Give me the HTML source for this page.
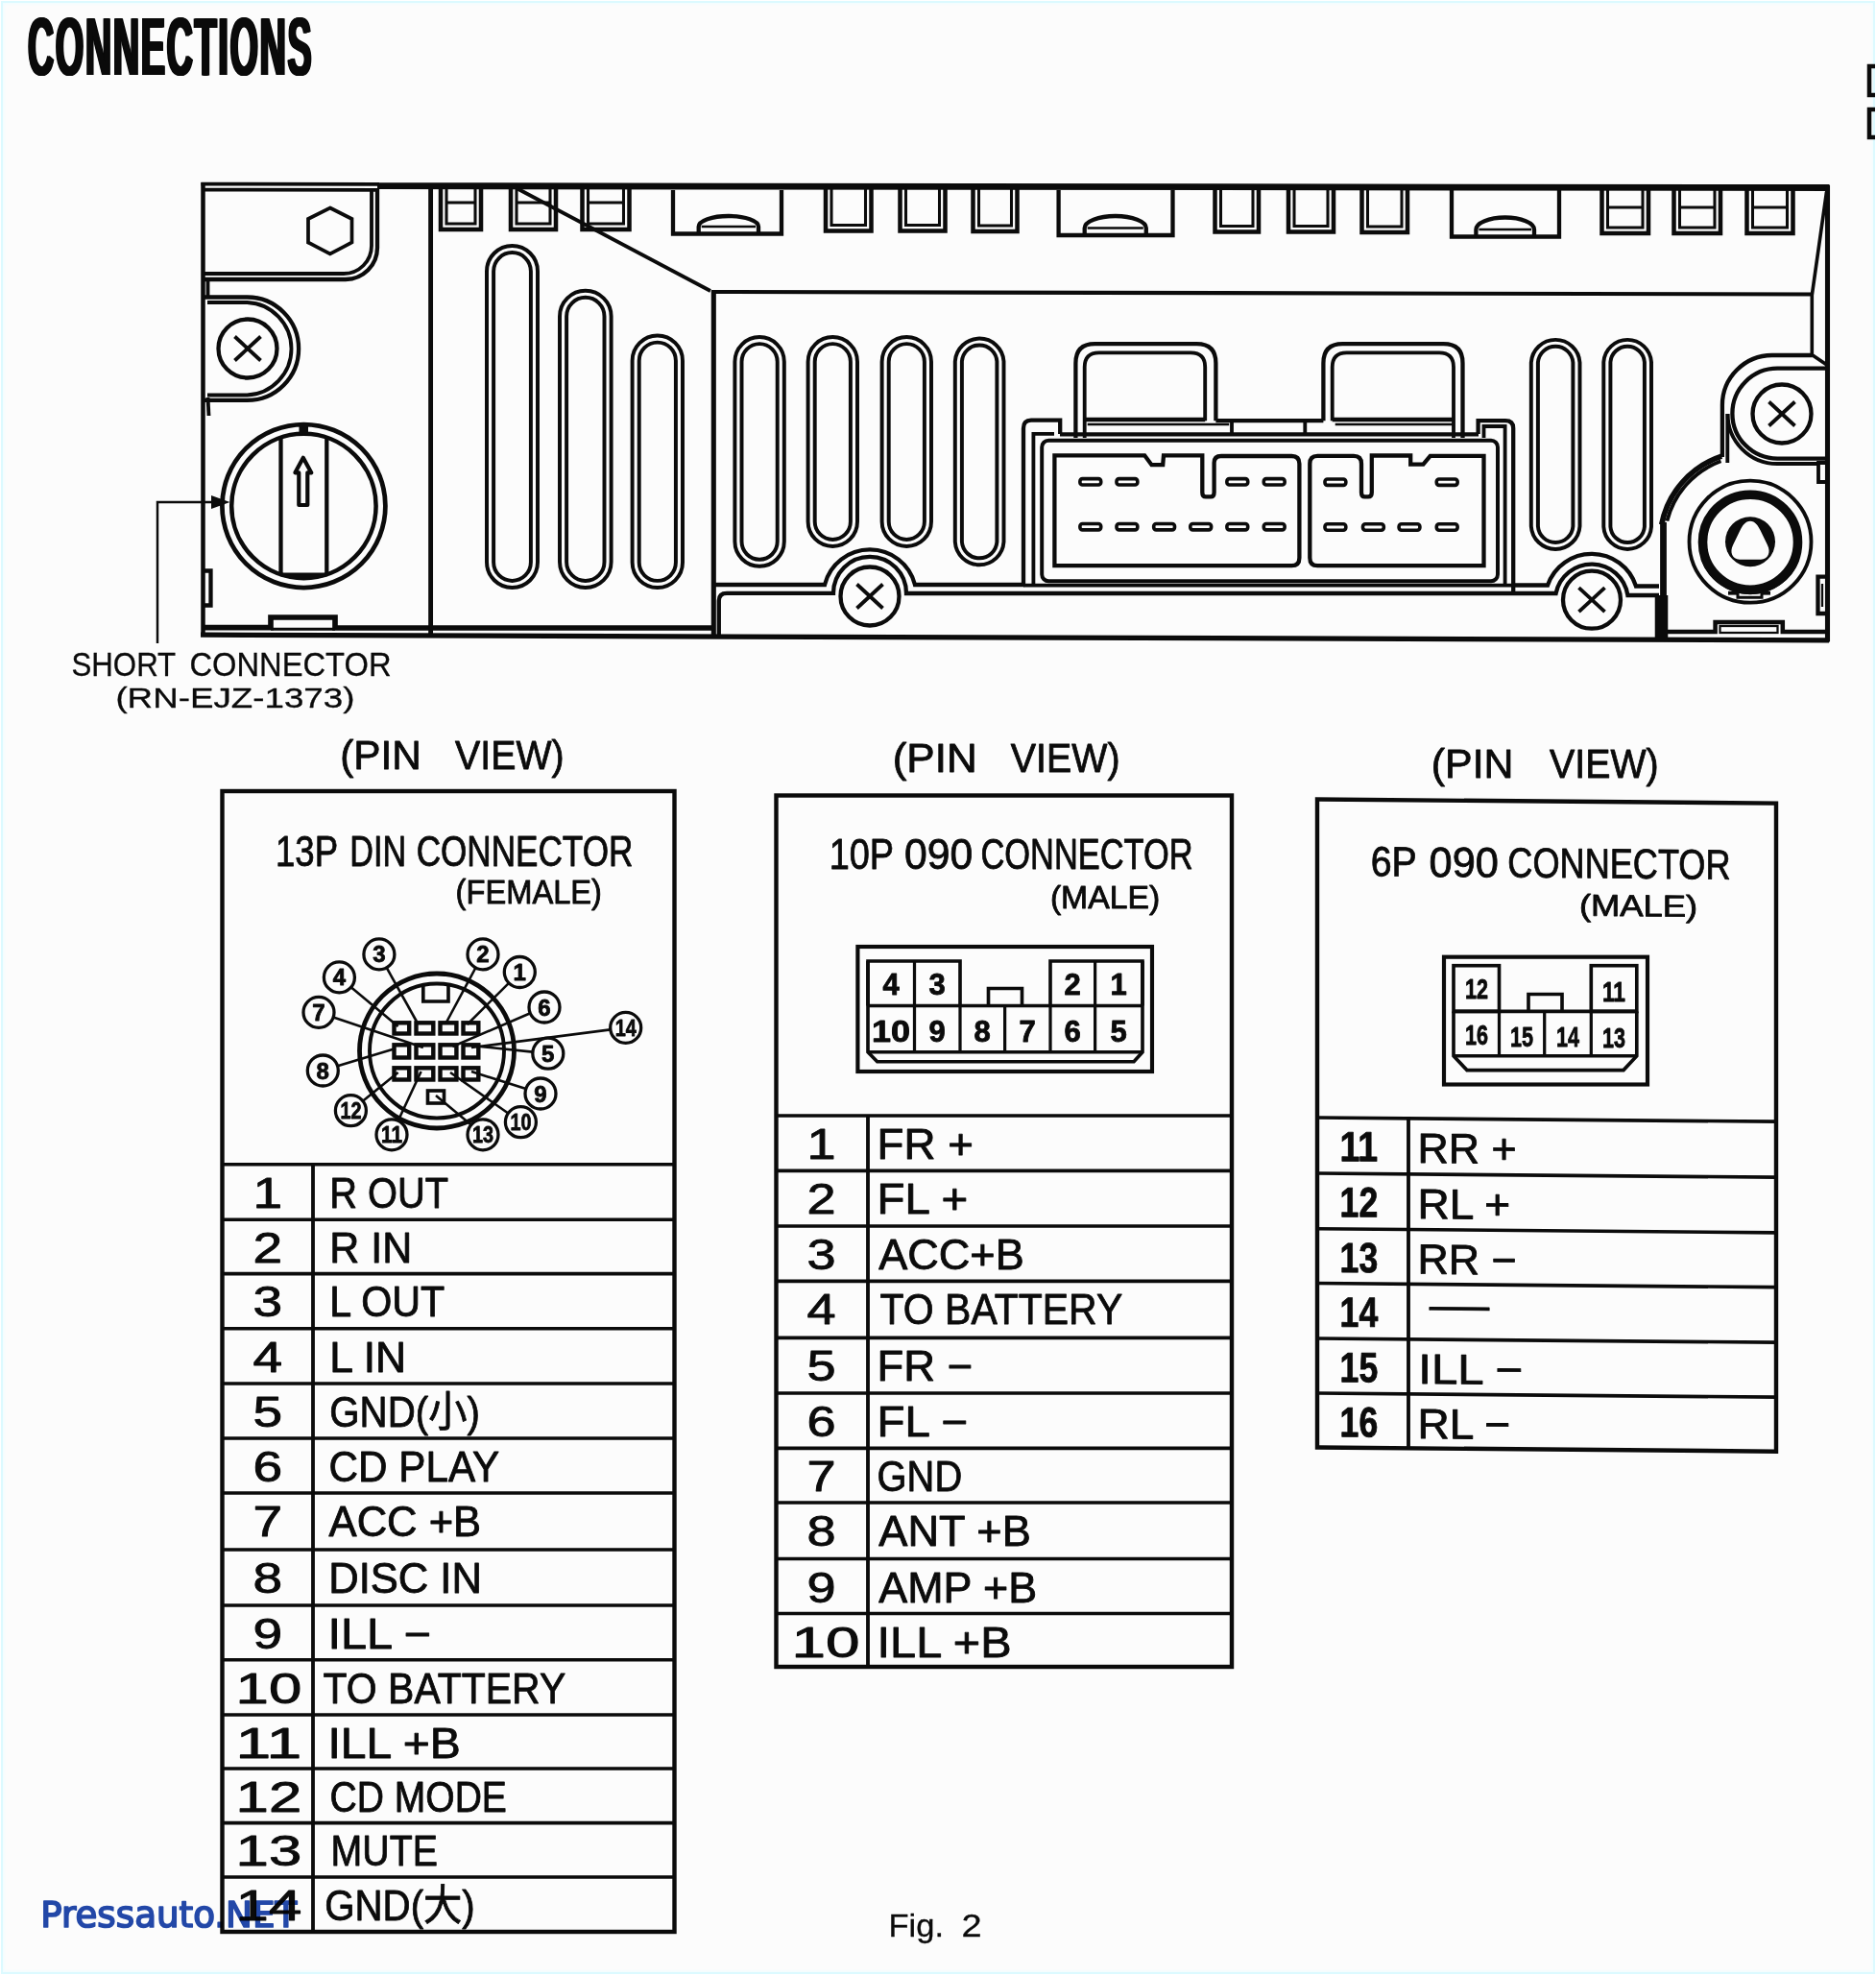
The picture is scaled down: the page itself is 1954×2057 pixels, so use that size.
<!DOCTYPE html>
<html lang="en"><head><meta charset="utf-8"><title>CONNECTIONS - Fig. 2</title>
<style>
html,body{margin:0;padding:0;background:#fcfcfc;}
#page{position:relative;width:1954px;height:2057px;overflow:hidden;background:#fcfcfc;
 box-shadow:inset 0 0 0 1px #fff, inset 0 0 0 3px #dcfaff, inset 0 0 3px 4px #effdff;}
svg{position:absolute;left:0;top:0;}
svg .ln{fill:none;stroke:#0b0b0b;stroke-linecap:butt;stroke-linejoin:miter;}
svg text{white-space:pre;stroke:#0b0b0b;stroke-width:0.85px;stroke-linejoin:round;}
svg text.nb{stroke:none;}
svg text.lt{stroke-width:0.3px;}
#title{position:absolute;left:29px;top:6px;margin:0;font:bold 85px/1 "Liberation Sans",sans-serif;color:#0a0a0a;
 transform-origin:0 0;transform:scale(0.4425,1);white-space:nowrap;letter-spacing:4px;
 text-shadow:1.5px 0 #0a0a0a,-1.5px 0 #0a0a0a,3px 0 #0a0a0a,-3px 0 #0a0a0a;}
</style></head>
<body><div id="page">
<svg width="1954" height="2057" viewBox="0 0 1954 2057">
<g class="ln">
<line x1="209.5" y1="191.6" x2="395" y2="191.8" stroke-width="3.84" />
<line x1="211" y1="197.6" x2="395" y2="197.8" stroke-width="3.84" />
<line x1="393" y1="193.6" x2="1905.5" y2="195.5" stroke-width="6.78" />
<line x1="211.5" y1="190" x2="211.5" y2="662" stroke-width="4.52" />
<line x1="209" y1="661.2" x2="1905" y2="666.8" stroke-width="5.20" />
<line x1="1903.5" y1="193" x2="1903.5" y2="668.5" stroke-width="5.08" />
<path d="M213,653.6 H282 V643 H349 V654 H743" stroke-width="5.65" />
<line x1="282" y1="655.3" x2="349" y2="655.3" stroke-width="2.94" />
<path d="M211,291 H360 A33,33 0 0 0 393,258 V196" stroke-width="4.29" />
<path d="M211,285 H358 A29,29 0 0 0 387,256 V199" stroke-width="3.84" />
<path d="M343.8,216.5 L366.5,228 V252.5 L343.8,264.5 L321,252.5 V228 Z" stroke-width="3.73" />
<line x1="448.6" y1="196" x2="448.6" y2="660" stroke-width="4.86" />
<path d="M213,309.5 H257.4 A53.7,53.7 0 0 1 257.4,416.9 H213" stroke-width="4.29" />
<path d="M216,315 H257.4 A48.3,48.3 0 0 1 257.4,411.5 H216" stroke-width="3.84" />
<line x1="216.5" y1="291" x2="216.5" y2="311" stroke-width="3.84" />
<line x1="216.5" y1="414" x2="217.5" y2="433" stroke-width="3.84" />
<circle cx="258" cy="363" r="30.5" stroke-width="4.29" />
<line x1="244.5" y1="350.5" x2="271.5" y2="375.5" stroke-width="3.84" />
<line x1="244.5" y1="375.5" x2="271.5" y2="350.5" stroke-width="3.84" />
<circle cx="316.4" cy="527" r="85" stroke-width="4.75" />
<circle cx="316.4" cy="527" r="75.2" stroke-width="4.52" />
<line x1="292.5" y1="456" x2="292.5" y2="598" stroke-width="4.29" />
<line x1="340.3" y1="456" x2="340.3" y2="598" stroke-width="4.29" />
<path d="M291,596.5 H342 V600 Q316.4,607 291,600 Z" fill="#0b0b0b" stroke="none"/>
<rect x="311.5" y="440.5" width="9.5" height="12" fill="#0b0b0b" stroke="none"/>
<path d="M315.8,476.8 L324.2,492.3 H320.3 V526 H311.3 V492.3 H307.4 Z" stroke-width="4.18" stroke-linejoin="round"/>
<path d="M226,523 H164 V670" stroke-width="2.49" />
<path d="M239.5,523 L220,516 V530 Z" fill="#0b0b0b" stroke="none"/>
<path d="M213,594.5 H219.5 V630.5 H213" stroke-width="4.29" />
<path d="M459,197 V239 H501 V197" stroke-width="4.52" />
<path d="M465,197 V233 H495 V197" stroke-width="3.05" />
<line x1="465" y1="211" x2="495" y2="211" stroke-width="3.05" />
<path d="M532,197 V239 H579 V197" stroke-width="4.52" />
<path d="M538,197 V233 H573 V197" stroke-width="3.05" />
<line x1="538" y1="211" x2="573" y2="211" stroke-width="3.05" />
<path d="M606.5,197 V239 H655.5 V197" stroke-width="4.52" />
<path d="M612.5,197 V233 H649.5 V197" stroke-width="3.05" />
<line x1="612.5" y1="211" x2="649.5" y2="211" stroke-width="3.05" />
<line x1="538" y1="196" x2="740" y2="303" stroke-width="3.84" />
<path d="M507.0,282.5 A26.5,26.5 0 0 1 560.0,282.5 V585.5 A26.5,26.5 0 0 1 507.0,585.5 Z" stroke-width="3.95" />
<path d="M514.1,282.5 A19.4,19.4 0 0 1 552.9,282.5 V585.5 A19.4,19.4 0 0 1 514.1,585.5 Z" stroke-width="3.95" />
<path d="M583.0,329.5 A26.8,26.8 0 0 1 636.6,329.5 V585.2 A26.8,26.8 0 0 1 583.0,585.2 Z" stroke-width="3.95" />
<path d="M590.1,329.5 A19.7,19.7 0 0 1 629.5,329.5 V585.2 A19.7,19.7 0 0 1 590.1,585.2 Z" stroke-width="3.95" />
<path d="M658.6,375.7 A26.2,26.2 0 0 1 711.0,375.7 V585.8 A26.2,26.2 0 0 1 658.6,585.8 Z" stroke-width="3.95" />
<path d="M665.7,375.7 A19.1,19.1 0 0 1 703.9,375.7 V585.8 A19.1,19.1 0 0 1 665.7,585.8 Z" stroke-width="3.95" />
<line x1="743.3" y1="303" x2="743.3" y2="662" stroke-width="5.08" />
<line x1="741" y1="304" x2="1888" y2="306.5" stroke-width="4.07" />
<path d="M701,198 V243.5 H814 V198" stroke-width="4.29" />
<path d="M727.7,243.5 V236.0 A31.1,11.0 0 0 1 790,236.0 V243.5" stroke-width="4.29" />
<line x1="730.7" y1="236.0" x2="787" y2="236.0" stroke-width="2.49" />
<path d="M860,197 V240.5 H907.5 V197" stroke-width="4.52" />
<path d="M866,197 V234.5 H901.5 V197" stroke-width="3.05" />
<path d="M937.5,197 V240.5 H984.5 V197" stroke-width="4.52" />
<path d="M943.5,197 V234.5 H978.5 V197" stroke-width="3.05" />
<path d="M1013.5,197 V241 H1059.5 V197" stroke-width="4.52" />
<path d="M1019.5,197 V235 H1053.5 V197" stroke-width="3.05" />
<path d="M1102.6,198 V245 H1221.5 V198" stroke-width="4.29" />
<path d="M1129.7,245 V237.5 A32.0,12.5 0 0 1 1193.8,237.5 V245" stroke-width="4.29" />
<line x1="1132.7" y1="237.5" x2="1190.8" y2="237.5" stroke-width="2.49" />
<path d="M1265.5,197 V241.5 H1311 V197" stroke-width="4.52" />
<path d="M1271.5,197 V235.5 H1305 V197" stroke-width="3.05" />
<path d="M1342,197 V241.5 H1389 V197" stroke-width="4.52" />
<path d="M1348,197 V235.5 H1383 V197" stroke-width="3.05" />
<path d="M1418.5,197 V242 H1466 V197" stroke-width="4.52" />
<path d="M1424.5,197 V236 H1460 V197" stroke-width="3.05" />
<path d="M1512,198 V246.5 H1624 V198" stroke-width="4.29" />
<path d="M1537.4,246.5 V239.0 A30.3,12.5 0 0 1 1598,239.0 V246.5" stroke-width="4.29" />
<line x1="1540.4" y1="239.0" x2="1595" y2="239.0" stroke-width="2.49" />
<path d="M1668.5,197 V243 H1717 V197" stroke-width="4.52" />
<path d="M1674.5,197 V237 H1711 V197" stroke-width="3.05" />
<line x1="1674.5" y1="216" x2="1711" y2="216" stroke-width="3.05" />
<path d="M1743.5,197 V243 H1792 V197" stroke-width="4.52" />
<path d="M1749.5,197 V237 H1786 V197" stroke-width="3.05" />
<line x1="1749.5" y1="216" x2="1786" y2="216" stroke-width="3.05" />
<path d="M1819.5,197 V243 H1867.5 V197" stroke-width="4.52" />
<path d="M1825.5,197 V237 H1861.5 V197" stroke-width="3.05" />
<line x1="1825.5" y1="216" x2="1861.5" y2="216" stroke-width="3.05" />
<path d="M765.4,376.7 A25.7,25.7 0 0 1 816.8,376.7 V564.1 A25.7,25.7 0 0 1 765.4,564.1 Z" stroke-width="3.95" />
<path d="M772.5,376.7 A18.6,18.6 0 0 1 809.7,376.7 V564.1 A18.6,18.6 0 0 1 772.5,564.1 Z" stroke-width="3.95" />
<path d="M841.6,376.7 A25.7,25.7 0 0 1 893.0,376.7 V543.3 A25.7,25.7 0 0 1 841.6,543.3 Z" stroke-width="3.95" />
<path d="M848.7,376.7 A18.6,18.6 0 0 1 885.9,376.7 V543.3 A18.6,18.6 0 0 1 848.7,543.3 Z" stroke-width="3.95" />
<path d="M918.6,376.7 A25.7,25.7 0 0 1 970.0,376.7 V543.3 A25.7,25.7 0 0 1 918.6,543.3 Z" stroke-width="3.95" />
<path d="M925.7,376.7 A18.6,18.6 0 0 1 962.9,376.7 V543.3 A18.6,18.6 0 0 1 925.7,543.3 Z" stroke-width="3.95" />
<path d="M994.8,376.4 A25.4,25.4 0 0 1 1045.5,376.4 V564.4 A25.4,25.4 0 0 1 994.8,564.4 Z" stroke-width="3.95" />
<path d="M1001.9,376.4 A18.3,18.3 0 0 1 1038.4,376.4 V564.4 A18.3,18.3 0 0 1 1001.9,564.4 Z" stroke-width="3.95" />
<path d="M1594.8,377.7 A25.4,25.4 0 0 1 1645.5,377.7 V548.1 A25.4,25.4 0 0 1 1594.8,548.1 Z" stroke-width="3.95" />
<path d="M1601.9,377.7 A18.3,18.3 0 0 1 1638.4,377.7 V548.1 A18.3,18.3 0 0 1 1601.9,548.1 Z" stroke-width="3.95" />
<path d="M1670.3,377.2 A24.9,24.9 0 0 1 1720.0,377.2 V548.6 A24.9,24.9 0 0 1 1670.3,548.6 Z" stroke-width="3.95" />
<path d="M1677.4,377.2 A17.8,17.8 0 0 1 1712.9,377.2 V548.6 A17.8,17.8 0 0 1 1677.4,548.6 Z" stroke-width="3.95" />
<path d="M743,609 H859 A48.5,48.5 0 0 1 953,609 H1067" stroke-width="4.29" />
<path d="M748.8,662 V625.5 Q748.8,617.8 757,617.8 H868 A38,38 0 0 1 944,618 H1620.6 A38,38 0 0 1 1695.4,620 H1728" stroke-width="4.29" />
<circle cx="906" cy="621" r="30.5" stroke-width="4.29" />
<line x1="892.5" y1="608.5" x2="919.5" y2="633.5" stroke-width="3.84" />
<line x1="892.5" y1="633.5" x2="919.5" y2="608.5" stroke-width="3.84" />
<path d="M1576,609.5 H1612 A48.5,48.5 0 0 1 1704,610.5 H1728" stroke-width="4.29" />
<circle cx="1658" cy="624.7" r="30" stroke-width="4.29" />
<line x1="1644.5" y1="612.2" x2="1671.5" y2="637.2" stroke-width="3.84" />
<line x1="1644.5" y1="637.2" x2="1671.5" y2="612.2" stroke-width="3.84" />
<path d="M1066,609.7 V446 Q1066,437.6 1074,437.6 H1104.2 V452" stroke-width="4.29" />
<path d="M1076.4,609.7 V451.8 H1098" stroke-width="3.84" />
<path d="M1539.6,452 V438.2 H1568 Q1576.2,438.2 1576.2,446 V617" stroke-width="4.29" />
<path d="M1545.5,456 V444 H1567.6 V609.7" stroke-width="3.84" />
<rect x="1085.2" y="458.7" width="474.8" height="146.6" rx="7" stroke-width="3.95" />
<line x1="1066" y1="609.7" x2="1575" y2="609.7" stroke-width="3.84" />
<line x1="1104" y1="452.3" x2="1540" y2="452.3" stroke-width="4.29" />
<line x1="1266.4" y1="438.2" x2="1378.4" y2="438.2" stroke-width="4.29" />
<line x1="1283" y1="438" x2="1283" y2="452" stroke-width="3.84" />
<line x1="1359.3" y1="438" x2="1359.3" y2="452" stroke-width="3.84" />
<path d="M1120.4,456 V378.2 Q1120.4,358.2 1140.4,358.2 H1246.4 Q1266.4,358.2 1266.4,378.2 V438.2" stroke-width="4.29" />
<path d="M1129.7,456 V382.3 Q1129.7,367.3 1144.7,367.3 H1240.2 Q1255.2,367.3 1255.2,382.3 V438.2" stroke-width="3.84" />
<line x1="1129.7" y1="437" x2="1255.2" y2="437" stroke-width="4.29" />
<line x1="1132.7" y1="442" x2="1280.2" y2="442" stroke-width="2.26" />
<path d="M1378.4,438.2 V378.2 Q1378.4,358.2 1398.4,358.2 H1503.5 Q1523.5,358.2 1523.5,378.2 V456" stroke-width="4.29" />
<path d="M1387.7,438.2 V382.3 Q1387.7,367.3 1402.7,367.3 H1499 Q1514,367.3 1514,382.3 V456" stroke-width="3.84" />
<line x1="1387.7" y1="437" x2="1514" y2="437" stroke-width="4.29" />
<line x1="1390.7" y1="442" x2="1514" y2="442" stroke-width="2.26" />
<path d="M1098.4,474.3 H1192.2 L1199.5,484.2 H1211.2 L1212,474.3 H1252.3 V513 Q1252.3,517.4 1256,517.4 H1261 Q1264.6,517.4 1264.6,513 V482 Q1264.6,475 1272,475 H1345.4 Q1353.4,475 1353.4,483 V581 Q1353.4,589.2 1345.4,589.2 H1098.4 Z" stroke-width="4.29" />
<path d="M1545.5,474.9 H1489.7 L1482.4,483.7 H1469.2 V474.5 H1428.8 V513 Q1428.8,517.4 1425,517.4 H1421.5 Q1418,517.4 1418,513 V483 Q1418,474.9 1410,474.9 H1372.3 Q1364.3,474.9 1364.3,483 V581 Q1364.3,589.2 1372.3,589.2 H1545.5 Z" stroke-width="4.29" />
<rect x="1124.9" y="498.6" width="21.8" height="6.4" rx="2.6" stroke-width="3.62" />
<rect x="1163.0" y="498.6" width="21.8" height="6.4" rx="2.6" stroke-width="3.62" />
<rect x="1277.9" y="498.6" width="21.8" height="6.4" rx="2.6" stroke-width="3.62" />
<rect x="1316.3" y="498.6" width="21.8" height="6.4" rx="2.6" stroke-width="3.62" />
<rect x="1124.9" y="545.5" width="21.8" height="6.4" rx="2.6" stroke-width="3.62" />
<rect x="1163.0" y="545.5" width="21.8" height="6.4" rx="2.6" stroke-width="3.62" />
<rect x="1201.7" y="545.5" width="21.8" height="6.4" rx="2.6" stroke-width="3.62" />
<rect x="1239.8" y="545.5" width="21.8" height="6.4" rx="2.6" stroke-width="3.62" />
<rect x="1277.9" y="545.5" width="21.8" height="6.4" rx="2.6" stroke-width="3.62" />
<rect x="1316.3" y="545.5" width="21.8" height="6.4" rx="2.6" stroke-width="3.62" />
<rect x="1380.0" y="499.0" width="21.8" height="6.4" rx="2.6" stroke-width="3.62" />
<rect x="1496.3" y="499.0" width="21.8" height="6.4" rx="2.6" stroke-width="3.62" />
<rect x="1380.0" y="545.8" width="21.8" height="6.4" rx="2.6" stroke-width="3.62" />
<rect x="1419.5" y="545.8" width="21.8" height="6.4" rx="2.6" stroke-width="3.62" />
<rect x="1457.1" y="545.8" width="21.8" height="6.4" rx="2.6" stroke-width="3.62" />
<rect x="1496.3" y="545.8" width="21.8" height="6.4" rx="2.6" stroke-width="3.62" />
<path d="M1902.5,200 L1887.3,307.5 V369.6 L1902,379.5" stroke-width="3.62" />
<path d="M1887.7,370 H1845.8 A52,52 0 0 0 1793.9,422 V476" stroke-width="4.29" />
<line x1="1799.3" y1="431" x2="1799.3" y2="482" stroke-width="3.84" />
<path d="M1901,383.7 H1851.3 A46.5,46.5 0 0 0 1851.3,477.6 H1901" stroke-width="4.29" />
<path d="M1799.6,431 A51.5,51.5 0 0 0 1851.3,483 H1895" stroke-width="3.84" />
<circle cx="1856" cy="431" r="30.5" stroke-width="4.29" />
<line x1="1842.5" y1="418.5" x2="1869.5" y2="443.5" stroke-width="3.84" />
<line x1="1842.5" y1="443.5" x2="1869.5" y2="418.5" stroke-width="3.84" />
<path d="M1730.7,546.3 A94,94 0 0 1 1793.2,475.1" stroke-width="5.65" />
<path d="M1736.4,542.6 A89.3,89.3 0 0 1 1792.5,480.3" stroke-width="3.84" />
<line x1="1732.5" y1="544" x2="1732.5" y2="664" stroke-width="6.78" />
<line x1="1730.5" y1="620" x2="1730.5" y2="664" stroke-width="13.56" />
<circle cx="1823" cy="564.2" r="63.5" stroke-width="3.84" />
<circle cx="1823" cy="564.7" r="49.5" stroke-width="9.60" />
<path d="M1773.0,582.2 A53,53 0 0 0 1873.0,582.2" stroke-width="3.05" />
<circle cx="1823" cy="564.2" r="26" fill="#0b0b0b" stroke="none"/>
<path transform="translate(1823 564.2)" d="M0,-21.5 C5,-21.5 8,-17 10.5,-12 L18,3.5 C21.5,10.5 19,18 11,18.5 H-11 C-19,18 -21.5,10.5 -18,3.5 L-10.5,-12 C-8,-17 -5,-21.5 0,-21.5 Z" fill="#fcfcfc" stroke="none"/>
<path d="M1810,615.2 V622.2 H1835 V615.2" stroke-width="3.05" />
<line x1="1800" y1="617.7" x2="1810" y2="617.7" stroke-width="3.84" />
<line x1="1835" y1="617.7" x2="1844" y2="617.7" stroke-width="3.84" />
<path d="M1901,482 H1894 V502 H1901" stroke-width="3.84" />
<path d="M1901,600.7 H1893.5 V639 H1901" stroke-width="4.29" />
<line x1="1898" y1="608" x2="1898" y2="632" stroke-width="2.26" />
<path d="M1737,658 H1786.6 V648 H1856.8 V658 H1901" stroke-width="4.52" />
<rect x="1791.5" y="652.0" width="60.0" height="7.0" rx="0" stroke-width="2.26" />
</g>
<g class="ln">
<path d="M1953,69 H1947 V99 H1953" stroke-width="4.52" />
<path d="M1953,114 H1947 V143 H1953" stroke-width="4.52" />
</g>
<g class="ln">
<g>
<rect x="231.5" y="824.0" width="471.0" height="1188.0" rx="0" stroke-width="4.42" />
<line x1="231.5" y1="1212.8" x2="702.5" y2="1212.8" stroke-width="3.64" />
<line x1="231.5" y1="1270.3" x2="702.5" y2="1270.3" stroke-width="3.64" />
<line x1="231.5" y1="1326.6" x2="702.5" y2="1326.6" stroke-width="3.64" />
<line x1="231.5" y1="1383.8" x2="702.5" y2="1383.8" stroke-width="3.64" />
<line x1="231.5" y1="1441" x2="702.5" y2="1441" stroke-width="3.64" />
<line x1="231.5" y1="1498" x2="702.5" y2="1498" stroke-width="3.64" />
<line x1="231.5" y1="1555" x2="702.5" y2="1555" stroke-width="3.64" />
<line x1="231.5" y1="1614" x2="702.5" y2="1614" stroke-width="3.64" />
<line x1="231.5" y1="1672" x2="702.5" y2="1672" stroke-width="3.64" />
<line x1="231.5" y1="1728.7" x2="702.5" y2="1728.7" stroke-width="3.64" />
<line x1="231.5" y1="1786" x2="702.5" y2="1786" stroke-width="3.64" />
<line x1="231.5" y1="1842" x2="702.5" y2="1842" stroke-width="3.64" />
<line x1="231.5" y1="1898.6" x2="702.5" y2="1898.6" stroke-width="3.64" />
<line x1="231.5" y1="1955" x2="702.5" y2="1955" stroke-width="3.64" />
<line x1="326" y1="1212.8" x2="326" y2="2012" stroke-width="3.84" />
</g>
<rect x="808.5" y="828.5" width="474.5" height="907.5" rx="0" stroke-width="4.42" />
<line x1="808.5" y1="1162" x2="1283" y2="1162" stroke-width="3.64" />
<line x1="808.5" y1="1219.4" x2="1283" y2="1219.4" stroke-width="3.64" />
<line x1="808.5" y1="1277" x2="1283" y2="1277" stroke-width="3.64" />
<line x1="808.5" y1="1334.4" x2="1283" y2="1334.4" stroke-width="3.64" />
<line x1="808.5" y1="1393.4" x2="1283" y2="1393.4" stroke-width="3.64" />
<line x1="808.5" y1="1451" x2="1283" y2="1451" stroke-width="3.64" />
<line x1="808.5" y1="1508.4" x2="1283" y2="1508.4" stroke-width="3.64" />
<line x1="808.5" y1="1565" x2="1283" y2="1565" stroke-width="3.64" />
<line x1="808.5" y1="1623.5" x2="1283" y2="1623.5" stroke-width="3.64" />
<line x1="808.5" y1="1680.5" x2="1283" y2="1680.5" stroke-width="3.64" />
<line x1="904" y1="1162" x2="904" y2="1736" stroke-width="3.84" />
<g transform="translate(1372 832.5) skewY(0.5) translate(-1372 -832.5)">
<rect x="1372.0" y="832.5" width="478.0" height="675.0" rx="0" stroke-width="4.42" />
<line x1="1372" y1="1164" x2="1850" y2="1164" stroke-width="3.64" />
<line x1="1372" y1="1222" x2="1850" y2="1222" stroke-width="3.64" />
<line x1="1372" y1="1279.7" x2="1850" y2="1279.7" stroke-width="3.64" />
<line x1="1372" y1="1336.5" x2="1850" y2="1336.5" stroke-width="3.64" />
<line x1="1372" y1="1394" x2="1850" y2="1394" stroke-width="3.64" />
<line x1="1372" y1="1451" x2="1850" y2="1451" stroke-width="3.64" />
<line x1="1467" y1="1164" x2="1467" y2="1507.5" stroke-width="3.84" />
</g>
</g>
<g class="ln">
<rect x="893.4" y="986.0" width="306.6" height="130.0" rx="0" stroke-width="4.16" />
<path d="M904,1047.5 V1001 H1000 V1047.5" stroke-width="3.64" />
<line x1="952.5" y1="1001" x2="952.5" y2="1095.8" stroke-width="3.25" />
<path d="M1094,1047.5 V1001 H1190 V1047.5" stroke-width="3.64" />
<line x1="1140.6" y1="1001" x2="1140.6" y2="1095.8" stroke-width="3.25" />
<line x1="904" y1="1047.5" x2="1190" y2="1047.5" stroke-width="3.64" />
<path d="M1029.5,1047.5 V1029.5 H1064.5 V1047.5" stroke-width="3.64" />
<line x1="1000" y1="1047.5" x2="1000" y2="1095.8" stroke-width="3.25" />
<line x1="1046.6" y1="1047.5" x2="1046.6" y2="1095.8" stroke-width="3.25" />
<line x1="1094" y1="1047.5" x2="1094" y2="1095.8" stroke-width="3.25" />
<path d="M904,1001 V1095.8 L913.7,1105.7 H1181 L1190,1095.8 V1001" stroke-width="3.64" />
<line x1="904" y1="1095.8" x2="1190" y2="1095.8" stroke-width="3.64" />
</g>
<text x="928" y="1036" text-anchor="middle" font-size="31" font-weight="bold" fill="#0b0b0b" font-family='"Liberation Sans", sans-serif'>4</text>
<text x="976" y="1036" text-anchor="middle" font-size="31" font-weight="bold" fill="#0b0b0b" font-family='"Liberation Sans", sans-serif'>3</text>
<text x="1117" y="1036" text-anchor="middle" font-size="31" font-weight="bold" fill="#0b0b0b" font-family='"Liberation Sans", sans-serif'>2</text>
<text x="1165" y="1036" text-anchor="middle" font-size="31" font-weight="bold" fill="#0b0b0b" font-family='"Liberation Sans", sans-serif'>1</text>
<text x="976" y="1085" text-anchor="middle" font-size="31" font-weight="bold" fill="#0b0b0b" font-family='"Liberation Sans", sans-serif'>9</text>
<text x="1023" y="1085" text-anchor="middle" font-size="31" font-weight="bold" fill="#0b0b0b" font-family='"Liberation Sans", sans-serif'>8</text>
<text x="1070" y="1085" text-anchor="middle" font-size="31" font-weight="bold" fill="#0b0b0b" font-family='"Liberation Sans", sans-serif'>7</text>
<text x="1117" y="1085" text-anchor="middle" font-size="31" font-weight="bold" fill="#0b0b0b" font-family='"Liberation Sans", sans-serif'>6</text>
<text x="1165" y="1085" text-anchor="middle" font-size="31" font-weight="bold" fill="#0b0b0b" font-family='"Liberation Sans", sans-serif'>5</text>
<text x="928" y="1085" text-anchor="middle" font-size="31" font-weight="bold" fill="#0b0b0b" font-family='"Liberation Sans", sans-serif' textLength="40" lengthAdjust="spacingAndGlyphs">10</text>
<g class="ln">
<rect x="1504.0" y="996.7" width="212.0" height="132.8" rx="0" stroke-width="4.16" />
<rect x="1514.0" y="1005.7" width="47.5" height="47.7" rx="0" stroke-width="3.64" />
<rect x="1657.3" y="1005.7" width="47.5" height="47.7" rx="0" stroke-width="3.64" />
<line x1="1514" y1="1053.4" x2="1704.8" y2="1053.4" stroke-width="3.64" />
<path d="M1592,1053.4 V1035.5 H1627 V1053.4" stroke-width="3.64" />
<line x1="1561.5" y1="1053.4" x2="1561.5" y2="1099.7" stroke-width="3.25" />
<line x1="1608.7" y1="1053.4" x2="1608.7" y2="1099.7" stroke-width="3.25" />
<line x1="1657.3" y1="1053.4" x2="1657.3" y2="1099.7" stroke-width="3.25" />
<path d="M1514,1053.4 V1099.7 L1528,1114.6 H1691 L1704.8,1099.7 V1053.4" stroke-width="3.64" />
<line x1="1514" y1="1099.7" x2="1704.8" y2="1099.7" stroke-width="3.64" />
</g>
<text x="1538" y="1040" text-anchor="middle" font-size="30" font-weight="bold" fill="#0b0b0b" font-family='"Liberation Sans", sans-serif' textLength="24" lengthAdjust="spacingAndGlyphs">12</text>
<text x="1681" y="1043" text-anchor="middle" font-size="30" font-weight="bold" fill="#0b0b0b" font-family='"Liberation Sans", sans-serif' textLength="24" lengthAdjust="spacingAndGlyphs">11</text>
<text x="1538" y="1088" text-anchor="middle" font-size="30" font-weight="bold" fill="#0b0b0b" font-family='"Liberation Sans", sans-serif' textLength="24" lengthAdjust="spacingAndGlyphs">16</text>
<text x="1585" y="1090" text-anchor="middle" font-size="30" font-weight="bold" fill="#0b0b0b" font-family='"Liberation Sans", sans-serif' textLength="24" lengthAdjust="spacingAndGlyphs">15</text>
<text x="1633" y="1090" text-anchor="middle" font-size="30" font-weight="bold" fill="#0b0b0b" font-family='"Liberation Sans", sans-serif' textLength="24" lengthAdjust="spacingAndGlyphs">14</text>
<text x="1681" y="1091" text-anchor="middle" font-size="30" font-weight="bold" fill="#0b0b0b" font-family='"Liberation Sans", sans-serif' textLength="24" lengthAdjust="spacingAndGlyphs">13</text>
<g class="ln">
<circle cx="455" cy="1094.5" r="80.5" stroke-width="4.80" />
<circle cx="455" cy="1094.5" r="70" stroke-width="3.90" />
<path d="M440.8,1025.5 V1043 H467 V1025.5" stroke-width="3.64" />
<rect x="410.5" y="1065.3" width="15.7" height="11.2" rx="0" stroke-width="4.42" />
<rect x="433.5" y="1065.3" width="17.8" height="11.2" rx="0" stroke-width="4.42" />
<rect x="458.5" y="1065.3" width="16.9" height="11.2" rx="0" stroke-width="4.42" />
<rect x="482.5" y="1065.3" width="15.8" height="11.2" rx="0" stroke-width="4.42" />
<rect x="410.5" y="1088.3" width="15.7" height="13.2" rx="0" stroke-width="4.42" />
<rect x="433.5" y="1088.3" width="17.8" height="13.2" rx="0" stroke-width="4.42" />
<rect x="458.5" y="1088.3" width="16.9" height="13.2" rx="0" stroke-width="4.42" />
<rect x="482.5" y="1088.3" width="15.8" height="13.2" rx="0" stroke-width="4.42" />
<rect x="410.5" y="1112.3" width="15.7" height="12.2" rx="0" stroke-width="4.42" />
<rect x="433.5" y="1112.3" width="17.8" height="12.2" rx="0" stroke-width="4.42" />
<rect x="458.5" y="1112.3" width="16.9" height="12.2" rx="0" stroke-width="4.42" />
<rect x="482.5" y="1112.3" width="15.8" height="12.2" rx="0" stroke-width="4.42" />
<rect x="445.5" y="1136.0" width="17.0" height="13.0" rx="0" stroke-width="3.64" />
<line x1="402.7" y1="1007.9" x2="434" y2="1064" stroke-width="2.60" />
<line x1="495.4" y1="1008.0" x2="464.8" y2="1065" stroke-width="2.60" />
<line x1="365.7" y1="1028.2" x2="414.6" y2="1069" stroke-width="2.60" />
<line x1="530.0" y1="1023.8" x2="486.7" y2="1067" stroke-width="2.60" />
<line x1="347.2" y1="1059.5" x2="440.8" y2="1091" stroke-width="2.60" />
<line x1="552.3" y1="1055.3" x2="471.4" y2="1090" stroke-width="2.60" />
<line x1="635.8" y1="1072.4" x2="491" y2="1091" stroke-width="2.60" />
<line x1="554.9" y1="1095.6" x2="491" y2="1089" stroke-width="2.60" />
<line x1="351.6" y1="1110.3" x2="412" y2="1092" stroke-width="2.60" />
<line x1="547.8" y1="1134.1" x2="491" y2="1116" stroke-width="2.60" />
<line x1="377.9" y1="1146.7" x2="414.6" y2="1117" stroke-width="2.60" />
<line x1="529.3" y1="1159.5" x2="469" y2="1117" stroke-width="2.60" />
<line x1="414.7" y1="1167.3" x2="438.6" y2="1116" stroke-width="2.60" />
<line x1="490.7" y1="1171.6" x2="454" y2="1141" stroke-width="2.60" />
<circle cx="394.9" cy="993.9" r="16" stroke-width="3.28" fill="#fcfcfc"/>
<circle cx="503" cy="993.9" r="16" stroke-width="3.28" fill="#fcfcfc"/>
<circle cx="353.4" cy="1017.9" r="16" stroke-width="3.28" fill="#fcfcfc"/>
<circle cx="541.3" cy="1012.5" r="16" stroke-width="3.28" fill="#fcfcfc"/>
<circle cx="332" cy="1054.4" r="16" stroke-width="3.28" fill="#fcfcfc"/>
<circle cx="567" cy="1049" r="16" stroke-width="3.28" fill="#fcfcfc"/>
<circle cx="651.7" cy="1070.4" r="16" stroke-width="3.28" fill="#fcfcfc"/>
<circle cx="570.8" cy="1097.2" r="16" stroke-width="3.28" fill="#fcfcfc"/>
<circle cx="336.3" cy="1115" r="16" stroke-width="3.28" fill="#fcfcfc"/>
<circle cx="563" cy="1139" r="16" stroke-width="3.28" fill="#fcfcfc"/>
<circle cx="365.4" cy="1156.7" r="16" stroke-width="3.28" fill="#fcfcfc"/>
<circle cx="542.4" cy="1168.7" r="16" stroke-width="3.28" fill="#fcfcfc"/>
<circle cx="408" cy="1181.8" r="16" stroke-width="3.28" fill="#fcfcfc"/>
<circle cx="503" cy="1181.8" r="16" stroke-width="3.28" fill="#fcfcfc"/>
</g>
<text x="394.9" y="1002.4" text-anchor="middle" font-size="24" font-weight="bold" fill="#0b0b0b" font-family='"Liberation Sans", sans-serif'>3</text>
<text x="503" y="1002.4" text-anchor="middle" font-size="24" font-weight="bold" fill="#0b0b0b" font-family='"Liberation Sans", sans-serif'>2</text>
<text x="353.4" y="1026.4" text-anchor="middle" font-size="24" font-weight="bold" fill="#0b0b0b" font-family='"Liberation Sans", sans-serif'>4</text>
<text x="541.3" y="1021.0" text-anchor="middle" font-size="24" font-weight="bold" fill="#0b0b0b" font-family='"Liberation Sans", sans-serif'>1</text>
<text x="332" y="1062.9" text-anchor="middle" font-size="24" font-weight="bold" fill="#0b0b0b" font-family='"Liberation Sans", sans-serif'>7</text>
<text x="567" y="1057.5" text-anchor="middle" font-size="24" font-weight="bold" fill="#0b0b0b" font-family='"Liberation Sans", sans-serif'>6</text>
<text x="651.7" y="1078.9" text-anchor="middle" font-size="24" font-weight="bold" fill="#0b0b0b" font-family='"Liberation Sans", sans-serif' textLength="22" lengthAdjust="spacingAndGlyphs">14</text>
<text x="570.8" y="1105.7" text-anchor="middle" font-size="24" font-weight="bold" fill="#0b0b0b" font-family='"Liberation Sans", sans-serif'>5</text>
<text x="336.3" y="1123.5" text-anchor="middle" font-size="24" font-weight="bold" fill="#0b0b0b" font-family='"Liberation Sans", sans-serif'>8</text>
<text x="563" y="1147.5" text-anchor="middle" font-size="24" font-weight="bold" fill="#0b0b0b" font-family='"Liberation Sans", sans-serif'>9</text>
<text x="365.4" y="1165.2" text-anchor="middle" font-size="24" font-weight="bold" fill="#0b0b0b" font-family='"Liberation Sans", sans-serif' textLength="22" lengthAdjust="spacingAndGlyphs">12</text>
<text x="542.4" y="1177.2" text-anchor="middle" font-size="24" font-weight="bold" fill="#0b0b0b" font-family='"Liberation Sans", sans-serif' textLength="22" lengthAdjust="spacingAndGlyphs">10</text>
<text x="408" y="1190.3" text-anchor="middle" font-size="24" font-weight="bold" fill="#0b0b0b" font-family='"Liberation Sans", sans-serif' textLength="22" lengthAdjust="spacingAndGlyphs">11</text>
<text x="503" y="1190.3" text-anchor="middle" font-size="24" font-weight="bold" fill="#0b0b0b" font-family='"Liberation Sans", sans-serif' textLength="22" lengthAdjust="spacingAndGlyphs">13</text>
<text y="704.0" font-size="34.2" font-weight="normal" fill="#0b0b0b" font-family='"Liberation Sans", sans-serif' class="lt"><tspan x="74.5" textLength="108.1" lengthAdjust="spacingAndGlyphs">SHORT</tspan> <tspan x="197.5" textLength="210.0" lengthAdjust="spacingAndGlyphs">CONNECTOR</tspan></text>
<text x="120.4" y="736.8" textLength="249.1" lengthAdjust="spacingAndGlyphs" font-size="29.1" font-weight="normal" fill="#0b0b0b" font-family='"Liberation Sans", sans-serif' class="lt">(RN-EJZ-1373)</text>
<text y="801.0" font-size="43.2" font-weight="normal" fill="#0b0b0b" font-family='"Liberation Sans", sans-serif' ><tspan x="354.2" textLength="84.6" lengthAdjust="spacingAndGlyphs">(PIN</tspan> <tspan x="474.0" textLength="113.6" lengthAdjust="spacingAndGlyphs">VIEW)</tspan></text>
<text y="803.7" font-size="42.2" font-weight="normal" fill="#0b0b0b" font-family='"Liberation Sans", sans-serif' ><tspan x="929.7" textLength="88.0" lengthAdjust="spacingAndGlyphs">(PIN</tspan> <tspan x="1052.8" textLength="113.7" lengthAdjust="spacingAndGlyphs">VIEW)</tspan></text>
<text y="810.3" font-size="42.9" font-weight="normal" fill="#0b0b0b" font-family='"Liberation Sans", sans-serif' ><tspan x="1490.8" textLength="85.7" lengthAdjust="spacingAndGlyphs">(PIN</tspan> <tspan x="1614.0" textLength="113.6" lengthAdjust="spacingAndGlyphs">VIEW)</tspan></text>
<text y="902.2" font-size="43.7" font-weight="normal" fill="#0b0b0b" font-family='"Liberation Sans", sans-serif' ><tspan x="287.0" textLength="64.5" lengthAdjust="spacingAndGlyphs">13P</tspan> <tspan x="364.3" textLength="58.8" lengthAdjust="spacingAndGlyphs">DIN</tspan> <tspan x="433.7" textLength="225.6" lengthAdjust="spacingAndGlyphs">CONNECTOR</tspan></text>
<text x="474.6" y="941.4" textLength="152.4" lengthAdjust="spacingAndGlyphs" font-size="34.4" font-weight="normal" fill="#0b0b0b" font-family='"Liberation Sans", sans-serif' >(FEMALE)</text>
<text y="904.5" font-size="43.9" font-weight="normal" fill="#0b0b0b" font-family='"Liberation Sans", sans-serif' ><tspan x="863.7" textLength="66.7" lengthAdjust="spacingAndGlyphs">10P</tspan> <tspan x="942.0" textLength="71.2" lengthAdjust="spacingAndGlyphs">090</tspan> <tspan x="1021.5" textLength="221.1" lengthAdjust="spacingAndGlyphs">CONNECTOR</tspan></text>
<text x="1093.9" y="945.9" textLength="114.3" lengthAdjust="spacingAndGlyphs" font-size="32.8" font-weight="normal" fill="#0b0b0b" font-family='"Liberation Sans", sans-serif' >(MALE)</text>
<text y="911.9" font-size="43.7" font-weight="normal" fill="#0b0b0b" font-family='"Liberation Sans", sans-serif' transform="translate(1372 832.5) skewY(0.5) translate(-1372 -832.5)"><tspan x="1427.7" textLength="48.1" lengthAdjust="spacingAndGlyphs">6P</tspan> <tspan x="1488.6" textLength="72.3" lengthAdjust="spacingAndGlyphs">090</tspan> <tspan x="1570.3" textLength="232.3" lengthAdjust="spacingAndGlyphs">CONNECTOR</tspan></text>
<text x="1644.9" y="951.3" textLength="123.3" lengthAdjust="spacingAndGlyphs" font-size="31.6" font-weight="normal" fill="#0b0b0b" font-family='"Liberation Sans", sans-serif' transform="translate(1372 832.5) skewY(0.5) translate(-1372 -832.5)">(MALE)</text>
<text y="2016.8" font-size="33.1" font-weight="normal" fill="#0b0b0b" font-family='"Liberation Sans", sans-serif' class="lt"><tspan x="925.5" textLength="57.5" lengthAdjust="spacingAndGlyphs">Fig.</tspan> <tspan x="1001.6" textLength="21.1" lengthAdjust="spacingAndGlyphs">2</tspan></text>
<text x="263.6" y="1257.6" textLength="30.6" lengthAdjust="spacingAndGlyphs" font-size="43.9" font-weight="normal" fill="#0b0b0b" font-family='"Liberation Sans", sans-serif' >1</text>
<text x="343.3" y="1257.6" textLength="123.9" lengthAdjust="spacingAndGlyphs" font-size="43.9" font-weight="normal" fill="#0b0b0b" font-family='"Liberation Sans", "Noto Sans CJK SC", sans-serif' >R OUT</text>
<text x="263.6" y="1315.1" textLength="30.6" lengthAdjust="spacingAndGlyphs" font-size="43.9" font-weight="normal" fill="#0b0b0b" font-family='"Liberation Sans", sans-serif' >2</text>
<text x="343.3" y="1315.1" textLength="85.9" lengthAdjust="spacingAndGlyphs" font-size="43.9" font-weight="normal" fill="#0b0b0b" font-family='"Liberation Sans", "Noto Sans CJK SC", sans-serif' >R IN</text>
<text x="263.6" y="1371.4" textLength="30.6" lengthAdjust="spacingAndGlyphs" font-size="43.9" font-weight="normal" fill="#0b0b0b" font-family='"Liberation Sans", sans-serif' >3</text>
<text x="343.3" y="1371.4" textLength="119.9" lengthAdjust="spacingAndGlyphs" font-size="43.9" font-weight="normal" fill="#0b0b0b" font-family='"Liberation Sans", "Noto Sans CJK SC", sans-serif' >L OUT</text>
<text x="263.6" y="1428.6" textLength="30.6" lengthAdjust="spacingAndGlyphs" font-size="43.9" font-weight="normal" fill="#0b0b0b" font-family='"Liberation Sans", sans-serif' >4</text>
<text x="343.3" y="1428.6" textLength="79.9" lengthAdjust="spacingAndGlyphs" font-size="43.9" font-weight="normal" fill="#0b0b0b" font-family='"Liberation Sans", "Noto Sans CJK SC", sans-serif' >L IN</text>
<text x="263.6" y="1485.8" textLength="30.6" lengthAdjust="spacingAndGlyphs" font-size="43.9" font-weight="normal" fill="#0b0b0b" font-family='"Liberation Sans", sans-serif' >5</text>
<text x="343.3" y="1485.8" textLength="156.5" lengthAdjust="spacingAndGlyphs" font-size="43.9" font-weight="normal" fill="#0b0b0b" font-family='"Liberation Sans", "Noto Sans CJK SC", sans-serif' >GND(小)</text>
<text x="263.6" y="1542.8" textLength="30.6" lengthAdjust="spacingAndGlyphs" font-size="43.9" font-weight="normal" fill="#0b0b0b" font-family='"Liberation Sans", sans-serif' >6</text>
<text x="342.6" y="1542.8" textLength="177.6" lengthAdjust="spacingAndGlyphs" font-size="43.9" font-weight="normal" fill="#0b0b0b" font-family='"Liberation Sans", "Noto Sans CJK SC", sans-serif' >CD PLAY</text>
<text x="263.6" y="1599.8" textLength="30.6" lengthAdjust="spacingAndGlyphs" font-size="43.9" font-weight="normal" fill="#0b0b0b" font-family='"Liberation Sans", sans-serif' >7</text>
<text x="342.6" y="1599.8" textLength="158.6" lengthAdjust="spacingAndGlyphs" font-size="43.9" font-weight="normal" fill="#0b0b0b" font-family='"Liberation Sans", "Noto Sans CJK SC", sans-serif' >ACC +B</text>
<text x="263.6" y="1658.8" textLength="30.6" lengthAdjust="spacingAndGlyphs" font-size="43.9" font-weight="normal" fill="#0b0b0b" font-family='"Liberation Sans", sans-serif' >8</text>
<text x="342.2" y="1658.8" textLength="159.7" lengthAdjust="spacingAndGlyphs" font-size="43.9" font-weight="normal" fill="#0b0b0b" font-family='"Liberation Sans", "Noto Sans CJK SC", sans-serif' >DISC IN</text>
<text x="263.6" y="1716.8" textLength="30.6" lengthAdjust="spacingAndGlyphs" font-size="43.9" font-weight="normal" fill="#0b0b0b" font-family='"Liberation Sans", sans-serif' >9</text>
<text x="341.4" y="1716.8" textLength="107.8" lengthAdjust="spacingAndGlyphs" font-size="43.9" font-weight="normal" fill="#0b0b0b" font-family='"Liberation Sans", "Noto Sans CJK SC", sans-serif' >ILL −</text>
<text x="245.6" y="1773.5" textLength="68.6" lengthAdjust="spacingAndGlyphs" font-size="43.9" font-weight="normal" fill="#0b0b0b" font-family='"Liberation Sans", sans-serif' >10</text>
<text x="336.6" y="1773.5" textLength="252.6" lengthAdjust="spacingAndGlyphs" font-size="43.9" font-weight="normal" fill="#0b0b0b" font-family='"Liberation Sans", "Noto Sans CJK SC", sans-serif' >TO BATTERY</text>
<text x="245.6" y="1830.8" textLength="68.6" lengthAdjust="spacingAndGlyphs" font-size="43.9" font-weight="normal" fill="#0b0b0b" font-family='"Liberation Sans", sans-serif' >11</text>
<text x="341.4" y="1830.8" textLength="138.5" lengthAdjust="spacingAndGlyphs" font-size="43.9" font-weight="normal" fill="#0b0b0b" font-family='"Liberation Sans", "Noto Sans CJK SC", sans-serif' >ILL +B</text>
<text x="245.6" y="1886.8" textLength="68.6" lengthAdjust="spacingAndGlyphs" font-size="43.9" font-weight="normal" fill="#0b0b0b" font-family='"Liberation Sans", sans-serif' >12</text>
<text x="343.6" y="1886.8" textLength="184.3" lengthAdjust="spacingAndGlyphs" font-size="43.9" font-weight="normal" fill="#0b0b0b" font-family='"Liberation Sans", "Noto Sans CJK SC", sans-serif' >CD MODE</text>
<text x="245.6" y="1943.4" textLength="68.6" lengthAdjust="spacingAndGlyphs" font-size="43.9" font-weight="normal" fill="#0b0b0b" font-family='"Liberation Sans", sans-serif' >13</text>
<text x="344.6" y="1943.4" textLength="111.4" lengthAdjust="spacingAndGlyphs" font-size="43.9" font-weight="normal" fill="#0b0b0b" font-family='"Liberation Sans", "Noto Sans CJK SC", sans-serif' >MUTE</text>
<text x="245.6" y="1999.8" textLength="68.6" lengthAdjust="spacingAndGlyphs" font-size="43.9" font-weight="normal" fill="#0b0b0b" font-family='"Liberation Sans", sans-serif' >14</text>
<text x="338.2" y="1999.8" textLength="156.5" lengthAdjust="spacingAndGlyphs" font-size="43.9" font-weight="normal" fill="#0b0b0b" font-family='"Liberation Sans", "Noto Sans CJK SC", sans-serif' >GND(大)</text>
<text x="840.6" y="1207.0" textLength="30.1" lengthAdjust="spacingAndGlyphs" font-size="43.9" font-weight="normal" fill="#0b0b0b" font-family='"Liberation Sans", sans-serif' >1</text>
<text x="913.6" y="1207.0" textLength="100.3" lengthAdjust="spacingAndGlyphs" font-size="43.9" font-weight="normal" fill="#0b0b0b" font-family='"Liberation Sans", sans-serif' >FR +</text>
<text x="840.6" y="1264.4" textLength="30.1" lengthAdjust="spacingAndGlyphs" font-size="43.9" font-weight="normal" fill="#0b0b0b" font-family='"Liberation Sans", sans-serif' >2</text>
<text x="913.6" y="1264.4" textLength="94.5" lengthAdjust="spacingAndGlyphs" font-size="43.9" font-weight="normal" fill="#0b0b0b" font-family='"Liberation Sans", sans-serif' >FL +</text>
<text x="840.6" y="1322.0" textLength="30.1" lengthAdjust="spacingAndGlyphs" font-size="43.9" font-weight="normal" fill="#0b0b0b" font-family='"Liberation Sans", sans-serif' >3</text>
<text x="915.3" y="1322.0" textLength="151.4" lengthAdjust="spacingAndGlyphs" font-size="43.9" font-weight="normal" fill="#0b0b0b" font-family='"Liberation Sans", sans-serif' >ACC+B</text>
<text x="840.6" y="1379.4" textLength="30.1" lengthAdjust="spacingAndGlyphs" font-size="43.9" font-weight="normal" fill="#0b0b0b" font-family='"Liberation Sans", sans-serif' >4</text>
<text x="916.6" y="1379.4" textLength="252.6" lengthAdjust="spacingAndGlyphs" font-size="43.9" font-weight="normal" fill="#0b0b0b" font-family='"Liberation Sans", sans-serif' >TO BATTERY</text>
<text x="840.6" y="1438.4" textLength="30.1" lengthAdjust="spacingAndGlyphs" font-size="43.9" font-weight="normal" fill="#0b0b0b" font-family='"Liberation Sans", sans-serif' >5</text>
<text x="913.6" y="1438.4" textLength="99.6" lengthAdjust="spacingAndGlyphs" font-size="43.9" font-weight="normal" fill="#0b0b0b" font-family='"Liberation Sans", sans-serif' >FR −</text>
<text x="840.6" y="1496.0" textLength="30.1" lengthAdjust="spacingAndGlyphs" font-size="43.9" font-weight="normal" fill="#0b0b0b" font-family='"Liberation Sans", sans-serif' >6</text>
<text x="913.6" y="1496.0" textLength="94.6" lengthAdjust="spacingAndGlyphs" font-size="43.9" font-weight="normal" fill="#0b0b0b" font-family='"Liberation Sans", sans-serif' >FL −</text>
<text x="840.6" y="1553.4" textLength="30.1" lengthAdjust="spacingAndGlyphs" font-size="43.9" font-weight="normal" fill="#0b0b0b" font-family='"Liberation Sans", sans-serif' >7</text>
<text x="913.6" y="1553.4" textLength="88.6" lengthAdjust="spacingAndGlyphs" font-size="43.9" font-weight="normal" fill="#0b0b0b" font-family='"Liberation Sans", sans-serif' >GND</text>
<text x="840.6" y="1610.0" textLength="30.1" lengthAdjust="spacingAndGlyphs" font-size="43.9" font-weight="normal" fill="#0b0b0b" font-family='"Liberation Sans", sans-serif' >8</text>
<text x="915.3" y="1610.0" textLength="158.5" lengthAdjust="spacingAndGlyphs" font-size="43.9" font-weight="normal" fill="#0b0b0b" font-family='"Liberation Sans", sans-serif' >ANT +B</text>
<text x="840.6" y="1668.5" textLength="30.1" lengthAdjust="spacingAndGlyphs" font-size="43.9" font-weight="normal" fill="#0b0b0b" font-family='"Liberation Sans", sans-serif' >9</text>
<text x="915.3" y="1668.5" textLength="164.9" lengthAdjust="spacingAndGlyphs" font-size="43.9" font-weight="normal" fill="#0b0b0b" font-family='"Liberation Sans", sans-serif' >AMP +B</text>
<text x="824.6" y="1725.5" textLength="71.0" lengthAdjust="spacingAndGlyphs" font-size="43.9" font-weight="normal" fill="#0b0b0b" font-family='"Liberation Sans", sans-serif' >10</text>
<text x="913.6" y="1725.5" textLength="140.1" lengthAdjust="spacingAndGlyphs" font-size="43.9" font-weight="normal" fill="#0b0b0b" font-family='"Liberation Sans", sans-serif' >ILL +B</text>
<g transform="translate(1372 832.5) skewY(0.5) translate(-1372 -832.5)">
<text x="1395.6" y="1209.0" textLength="39.6" lengthAdjust="spacingAndGlyphs" font-size="43.9" font-weight="bold" fill="#0b0b0b" font-family='"Liberation Sans", sans-serif' >11</text>
<text x="1476.4" y="1210.0" textLength="103.1" lengthAdjust="spacingAndGlyphs" font-size="43.9" font-weight="normal" fill="#0b0b0b" font-family='"Liberation Sans", sans-serif' >RR +</text>
<text x="1395.6" y="1267.0" textLength="39.6" lengthAdjust="spacingAndGlyphs" font-size="43.9" font-weight="bold" fill="#0b0b0b" font-family='"Liberation Sans", sans-serif' >12</text>
<text x="1476.4" y="1268.0" textLength="96.8" lengthAdjust="spacingAndGlyphs" font-size="43.9" font-weight="normal" fill="#0b0b0b" font-family='"Liberation Sans", sans-serif' >RL +</text>
<text x="1395.6" y="1324.7" textLength="39.6" lengthAdjust="spacingAndGlyphs" font-size="43.9" font-weight="bold" fill="#0b0b0b" font-family='"Liberation Sans", sans-serif' >13</text>
<text x="1476.4" y="1325.7" textLength="103.1" lengthAdjust="spacingAndGlyphs" font-size="43.9" font-weight="normal" fill="#0b0b0b" font-family='"Liberation Sans", sans-serif' >RR −</text>
<text x="1395.6" y="1381.5" textLength="39.6" lengthAdjust="spacingAndGlyphs" font-size="43.9" font-weight="bold" fill="#0b0b0b" font-family='"Liberation Sans", sans-serif' >14</text>
<text x="1395.6" y="1439.0" textLength="39.6" lengthAdjust="spacingAndGlyphs" font-size="43.9" font-weight="bold" fill="#0b0b0b" font-family='"Liberation Sans", sans-serif' >15</text>
<text x="1477.3" y="1440.0" textLength="108.9" lengthAdjust="spacingAndGlyphs" font-size="43.9" font-weight="normal" fill="#0b0b0b" font-family='"Liberation Sans", sans-serif' >ILL −</text>
<text x="1395.6" y="1496.0" textLength="39.6" lengthAdjust="spacingAndGlyphs" font-size="43.9" font-weight="bold" fill="#0b0b0b" font-family='"Liberation Sans", sans-serif' >16</text>
<text x="1476.4" y="1497.0" textLength="96.8" lengthAdjust="spacingAndGlyphs" font-size="43.9" font-weight="normal" fill="#0b0b0b" font-family='"Liberation Sans", sans-serif' >RL −</text>
<text x="1489.0" y="1373.0" textLength="62.0" lengthAdjust="spacingAndGlyphs" font-size="43.9" font-weight="normal" fill="#0b0b0b" font-family='"Liberation Sans", sans-serif' >—</text>
</g>
<text x="42.2" y="2006.8" textLength="267" lengthAdjust="spacingAndGlyphs" font-size="37.5" class="nb" fill="#2349aa" fill-opacity="1" style="stroke:#2349aa;stroke-width:1.7px;stroke-linejoin:round;mix-blend-mode:multiply" font-family='"DejaVu Sans", "Liberation Sans", sans-serif'>Pressauto.NET</text>
</svg>
<h1 id="title">CONNECTIONS</h1>
</div></body></html>
